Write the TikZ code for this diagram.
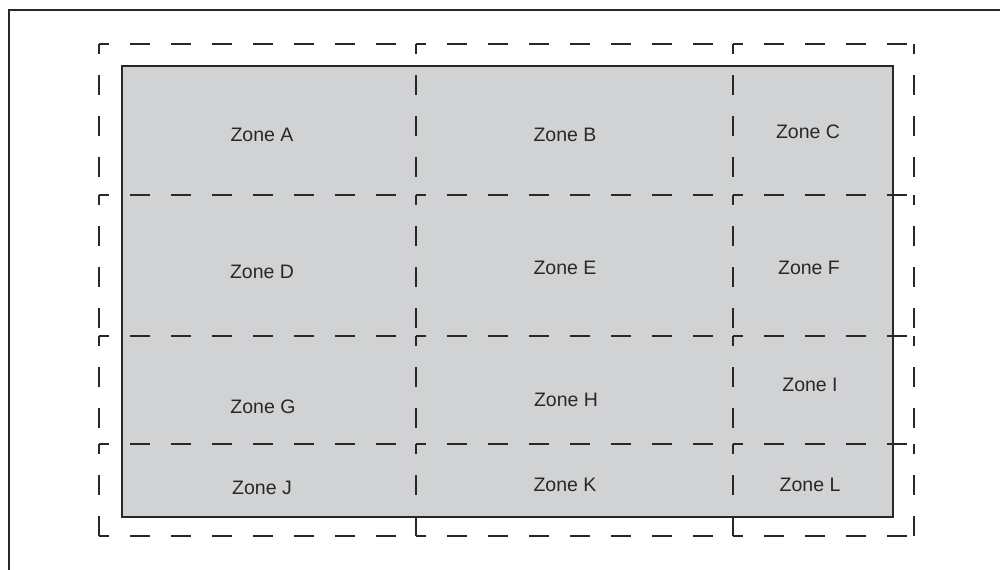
\documentclass[tikz,border=0pt]{standalone}
\usepackage{fontspec}
\setmainfont{Liberation Sans}
\usepackage{tikz}

\definecolor{zonefill}{RGB}{209,210,212}
\definecolor{inkgray}{RGB}{40,40,40}

\begin{document}
\begin{tikzpicture}[
  x=0.5pt, y=-0.5pt,
  font=\fontsize{9.75}{12}\selectfont,
  frame/.style={draw=inkgray, line width=0.75pt},
  floor/.style={draw=inkgray, fill=zonefill, line width=0.65pt},
  zone/.style={draw=inkgray, line width=0.65pt, dash pattern=on 10pt off 10.5pt, dash phase=5pt},
  lbl/.style={text=inkgray, inner sep=0pt}
]
\useasboundingbox (0,0) rectangle (1000,569);

\draw[frame] (9,580) -- (9,10) -- (1010,10);

\draw[floor] (122,66) rectangle (893,517);

% every side starts at its top or left corner
\foreach \xa/\xb in {99/416, 416/733, 733/914}
  \foreach \ya/\yb in {44/195, 195/336, 336/444, 444/536}
    \draw[zone] (\xa,\ya) -- (\xb,\ya) (\xa,\yb) -- (\xb,\yb)
                (\xa,\ya) -- (\xa,\yb) (\xb,\ya) -- (\xb,\yb);

\node[lbl] (zoneA) at (262,135) {Zone A};
\node[lbl] (zoneB) at (565,135) {Zone B};
\node[lbl] (zoneC) at (808,132) {Zone C};
\node[lbl] (zoneD) at (262,272) {Zone D};
\node[lbl] (zoneE) at (565,268) {Zone E};
\node[lbl] (zoneF) at (809,268) {Zone F};
\node[lbl] (zoneG) at (263,407) {Zone G};
\node[lbl] (zoneH) at (566,400) {Zone H};
\node[lbl] (zoneI) at (810,385) {Zone I};
\node[lbl] (zoneJ) at (262,488) {Zone J};
\node[lbl] (zoneK) at (565,485) {Zone K};
\node[lbl] (zoneL) at (810,485) {Zone L};
\end{tikzpicture}
\end{document}
